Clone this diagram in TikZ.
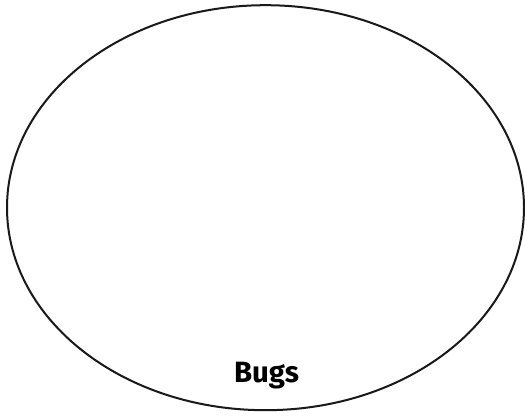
\documentclass[tikz,border=0pt]{standalone}
\usepackage{fontspec}
\setmainfont{Fira Sans}
\usetikzlibrary{shapes.geometric}
\begin{document}
\begin{tikzpicture}[x=0.75pt,y=-0.75pt,
  setring/.style={draw=black!90,line width=1.5pt},
  setlabel/.style={font=\fontsize{22}{26}\selectfont\bfseries,anchor=base,inner sep=0pt}]
\useasboundingbox (0,0) rectangle (525,415);
\node[setring,ellipse,minimum width=517*0.75pt,minimum height=405*0.75pt,inner sep=0pt] (ring) at (265.5,207.7) {};
\node[setlabel] (bugs) at (266.5,382.5) {Bugs};
\end{tikzpicture}
\end{document}
